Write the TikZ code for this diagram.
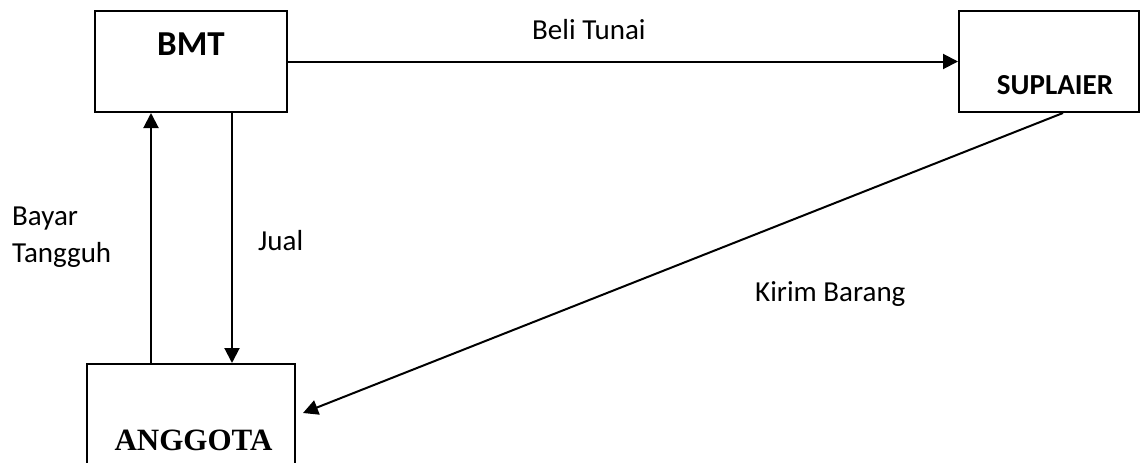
\documentclass[tikz,border=0pt]{standalone}
\usepackage{fontspec}
\setmainfont{Carlito}
\newfontfamily\serifbold{Liberation Serif}
\usetikzlibrary{arrows.meta}
\tikzset{
  boxnode/.style={draw, line width=2pt, inner sep=0pt},
  lbl/.style={inner sep=0pt, anchor=base west, font=\fontsize{29}{36}\selectfont},
  conn/.style={line width=2pt, -{Triangle[length=15pt,width=15pt]}},
}
\begin{document}
\begin{tikzpicture}[x=1pt,y=-1pt]
\useasboundingbox (0,0) rectangle (1141,463);
% boxes
\node[boxnode, minimum width=192pt, minimum height=101pt] (bmt) at (191,61.5) {};
\node[boxnode, minimum width=180pt, minimum height=101pt] (sup) at (1049,61.5) {};
\node[boxnode, minimum width=208pt, minimum height=110pt] (ang) at (191,419) {};
% box texts
\node[inner sep=0pt, anchor=base, font=\fontsize{35}{40}\selectfont\bfseries] (bmtt) at (191,55) {BMT};
\node[inner sep=0pt, anchor=base, font=\fontsize{29}{34}\selectfont\bfseries] (supt) at (1055,94) {SUPLAIER};
\node[inner sep=0pt, anchor=base, font=\fontsize{31}{36}\serifbold\bfseries] (angt) at (193.5,450) {ANGGOTA};
% helper coordinates
\coordinate (upx) at (151,0);
\coordinate (dnx) at (232,0);
\coordinate (dgs) at (1063,0);
\coordinate (dge) at (303,413);
% connectors
\draw[conn] (bmt.east) -- (sup.west);
\draw[conn] (ang.north -| upx) -- (bmt.south -| upx);
\draw[conn] (bmt.south -| dnx) -- (ang.north -| dnx);
\draw[conn] (sup.south -| dgs) -- (dge);
% labels
\node[lbl] (beli) at (532,39) {Beli Tunai};
\node[lbl] (jual) at (258,250) {Jual};
\node[lbl] (bayar1) at (12,225) {Bayar};
\node[lbl] (bayar2) at (12,262) {Tangguh};
\node[lbl] (kirim) at (755,301) {Kirim Barang};
\end{tikzpicture}
\end{document}
